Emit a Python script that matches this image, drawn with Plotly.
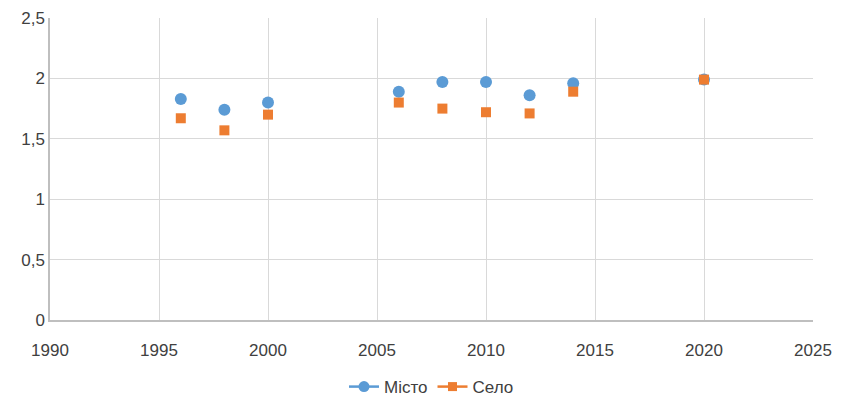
import plotly.graph_objects as go

years = [1996, 1998, 2000, 2006, 2008, 2010, 2012, 2014, 2020]
misto = [1.83, 1.74, 1.80, 1.89, 1.97, 1.97, 1.86, 1.96, 1.99]
selo = [1.67, 1.57, 1.70, 1.80, 1.75, 1.72, 1.71, 1.89, 1.99]

blue = '#5B9BD5'
orange = '#ED7D31'

fig = go.Figure()

# points
fig.add_trace(go.Scatter(x=years, y=misto, mode='markers', showlegend=False,
                         marker=dict(symbol='circle', size=12, color=blue)))
fig.add_trace(go.Scatter(x=years, y=selo, mode='markers', showlegend=False,
                         marker=dict(symbol='square', size=10, color=orange)))

# legend entries (line + marker, like Excel)
fig.add_trace(go.Scatter(x=[None], y=[None], mode='lines+markers', name='Місто',
                         line=dict(color=blue, width=2.5),
                         marker=dict(symbol='circle', size=11, color=blue)))
fig.add_trace(go.Scatter(x=[None], y=[None], mode='lines+markers', name='Село',
                         line=dict(color=orange, width=2.5),
                         marker=dict(symbol='square', size=9, color=orange)))

# page body has an 8px default margin; keep the whole figure inside the visible area
fig.update_layout(
    width=825, height=388,
    margin=dict(l=42, r=20, t=10, b=76, autoexpand=False),
    paper_bgcolor='white', plot_bgcolor='white',
    separators=', ',
    font=dict(family='Liberation Sans, Arial, sans-serif', size=17, color='#404040'),
    legend=dict(orientation='h', x=0.5, xanchor='center', y=-0.222, yanchor='middle',
                font=dict(size=17, color='#404040'), itemwidth=30),
    xaxis=dict(range=[1990, 2025], dtick=5, tick0=1990, tickformat='d',
               showgrid=True, gridcolor='#D9D9D9', gridwidth=1,
               showline=True, linecolor='#BFBFBF', linewidth=1.5,
               ticks='', zeroline=False, automargin=False, ticklabelstandoff=14,
               ticklabeloverflow='allow'),
    yaxis=dict(range=[0, 2.5], dtick=0.5,
               showgrid=True, gridcolor='#D9D9D9', gridwidth=1,
               showline=True, linecolor='#BFBFBF', linewidth=1.5,
               ticks='', zeroline=False, automargin=False, ticklabelstandoff=0),
)

fig.write_html("out.html")
